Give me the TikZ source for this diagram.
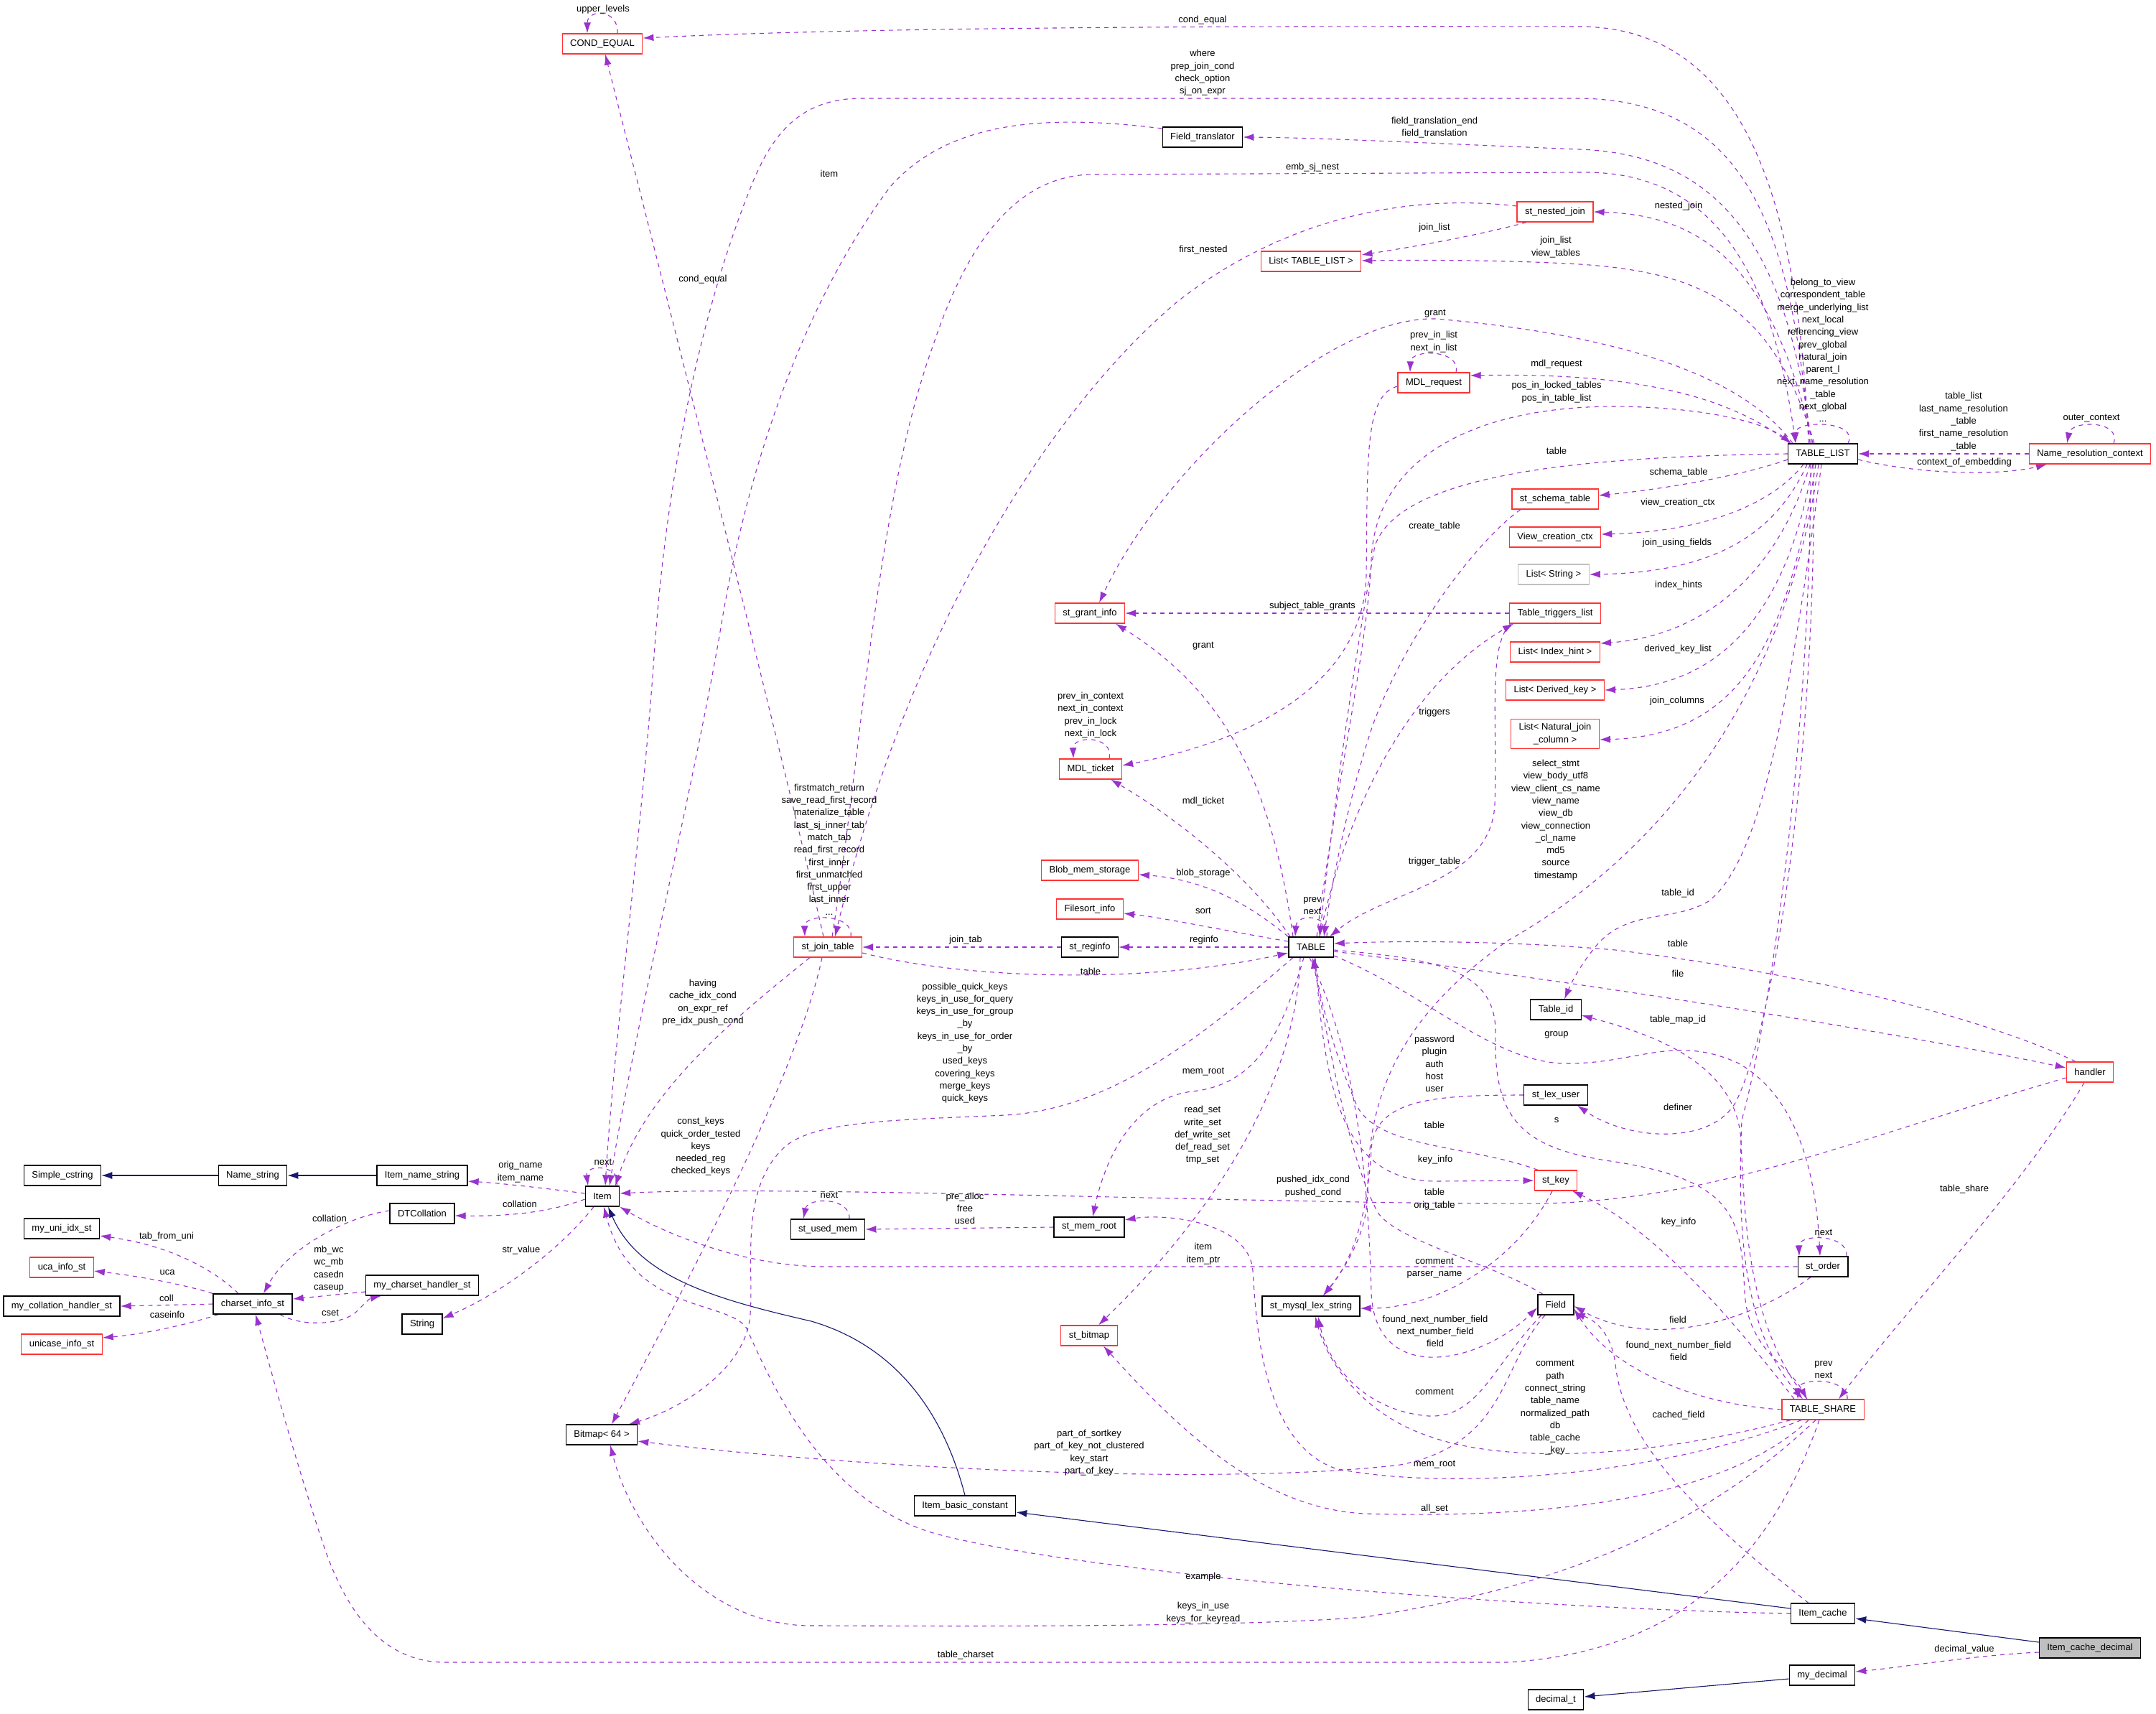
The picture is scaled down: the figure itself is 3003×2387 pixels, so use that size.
\documentclass[tikz,border=0pt]{standalone}
\usepackage{fontspec}
\setmainfont{Liberation Sans}
\usetikzlibrary{arrows.meta,backgrounds}
\definecolor{purp}{HTML}{9A32CD}
\definecolor{navyb}{HTML}{191970}
\definecolor{redb}{HTML}{FF3333}
\definecolor{greyb}{HTML}{BFBFBF}
\newcommand\dgfont{\fontsize{13}{17.3}\selectfont}
\tikzset{
  cls/.style={draw=black, line width=1.25pt, fill=white, inner xsep=11pt, inner ysep=3pt, minimum height=28pt, font=\dgfont, align=center},
  inc/.style={cls, draw=redb},
  uses/.style={draw=purp, line width=1.1pt, dash pattern=on 6pt off 6pt, -{Latex[length=15pt,width=10pt]}},
  inh/.style={draw=navyb, line width=1.1pt, -{Latex[length=15pt,width=10pt]}},
  lbl/.style={font=\dgfont, align=center, inner sep=0pt},
}
\begin{document}
\begin{tikzpicture}[x=1pt,y=-1pt]
\useasboundingbox (0,0) rectangle (3003,2387);
% ---------------- nodes
\node[inc] (COND_EQUAL) at (839,61) {COND\_EQUAL};
\node[cls] (Field_translator) at (1675,191) {Field\_translator};
\node[inc] (st_nested_join) at (2166,295) {st\_nested\_join};
\node[inc] (List_TL) at (1826,364) {List< TABLE\_LIST >};
\node[inc] (MDL_request) at (1997,533) {MDL\_request};
\node[cls] (TABLE_LIST) at (2539,632) {TABLE\_LIST};
\node[inc] (Name_resolution_context) at (2911,632) {Name\_resolution\_context};
\node[inc] (st_schema_table) at (2166,695) {st\_schema\_table};
\node[inc] (View_creation_ctx) at (2166,748) {View\_creation\_ctx};
\node[cls, draw=greyb] (List_String) at (2164,800) {List< String >};
\node[inc] (st_grant_info) at (1518,854) {st\_grant\_info};
\node[inc] (Table_triggers_list) at (2166,854) {Table\_triggers\_list};
\node[inc] (List_Index_hint) at (2166,908) {List< Index\_hint >};
\node[inc] (List_Derived_key) at (2166,961) {List< Derived\_key >};
\node[inc, inner ysep=6pt] (List_Natural) at (2166,1022) {List< Natural\_join\\\_column >};
\node[inc] (MDL_ticket) at (1519,1071) {MDL\_ticket};
\node[inc] (Blob_mem_storage) at (1518,1212) {Blob\_mem\_storage};
\node[inc] (Filesort_info) at (1518,1266) {Filesort\_info};
\node[inc] (st_join_table) at (1153,1319) {st\_join\_table};
\node[cls] (st_reginfo) at (1518,1319) {st\_reginfo};
\node[cls] (TABLE) at (1826,1319) {TABLE};
\node[cls] (Table_id) at (2167,1406) {Table\_id};
\node[inc] (handler) at (2911,1493) {handler};
\node[cls] (st_lex_user) at (2167,1525) {st\_lex\_user};
\node[cls] (Simple_cstring) at (87,1637) {Simple\_cstring};
\node[cls] (Name_string) at (352,1637) {Name\_string};
\node[cls] (Item_name_string) at (588,1637) {Item\_name\_string};
\node[cls] (Item) at (839,1666) {Item};
\node[inc] (st_key) at (2167,1644) {st\_key};
\node[cls] (DTCollation) at (588,1690) {DTCollation};
\node[cls] (my_uni_idx_st) at (86,1711) {my\_uni\_idx\_st};
\node[cls] (st_used_mem) at (1153,1712) {st\_used\_mem};
\node[cls] (st_mem_root) at (1517,1709) {st\_mem\_root};
\node[cls] (st_order) at (2539,1764) {st\_order};
\node[inc] (uca_info_st) at (86,1765) {uca\_info\_st};
\node[cls] (my_charset_handler_st) at (588,1790) {my\_charset\_handler\_st};
\node[cls] (charset_info_st) at (352,1816) {charset\_info\_st};
\node[cls] (Field) at (2167,1817) {Field};
\node[cls] (st_mysql_lex_string) at (1826,1819) {st\_mysql\_lex\_string};
\node[cls] (my_collation_handler_st) at (86,1819) {my\_collation\_handler\_st};
\node[cls] (String) at (588,1844) {String};
\node[inc] (st_bitmap) at (1517,1860) {st\_bitmap};
\node[inc] (unicase_info_st) at (86,1872) {unicase\_info\_st};
\node[inc] (TABLE_SHARE) at (2539,1963) {TABLE\_SHARE};
\node[cls] (Bitmap64) at (838,1998) {Bitmap< 64 >};
\node[cls] (Item_basic_constant) at (1344,2097) {Item\_basic\_constant};
\node[cls] (Item_cache) at (2539,2247) {Item\_cache};
\node[cls, fill=greyb] (Item_cache_decimal) at (2911,2295) {Item\_cache\_decimal};
\node[cls] (my_decimal) at (2538,2333) {my\_decimal};
\node[cls] (decimal_t) at (2167,2367) {decimal\_t};
% ---------------- edges
\begin{pgfonlayer}{background}
\fill[white] (0,0) rectangle (3003,2387);
% inheritance
\draw[inh] (Name_string.west) -- (Simple_cstring.east);
\draw[inh] (Item_name_string.west) -- (Name_string.east);
\draw[inh] (Item_basic_constant.north) .. controls (1315,1970) and (1250,1875) .. (1130,1840) .. controls (1000,1810) and (890,1780) .. ([xshift=8pt]Item.south);
\draw[inh] ([yshift=7pt]Item_cache.west) -- ([yshift=-9pt]Item_basic_constant.east);
\draw[inh] ([yshift=8pt]Item_cache_decimal.west) -- ([yshift=-7pt]Item_cache.east);
\draw[inh] ([yshift=-5pt]my_decimal.west) -- ([yshift=4pt]decimal_t.east);
% TABLE_LIST top side
\draw[uses] ([xshift=-20pt]TABLE_LIST.north) .. controls (2505,300) and (2440,38) .. (2200,37) .. controls (1700,36) and (1200,38) .. ([yshift=8pt]COND_EQUAL.east);
\draw[uses] ([xshift=-18pt]TABLE_LIST.north) .. controls (2495,330) and (2440,140) .. (2200,137) -- (1200,137) .. controls (1120,137) and (1080,180) .. (1050,250) .. controls (980,420) and (930,650) .. (912,900) .. controls (895,1150) and (855,1450) .. ([xshift=4pt]Item.north);
\draw[uses] ([yshift=12pt]Field_translator.west) .. controls (1450,158) and (1320,170) .. (1240,260) .. controls (1120,420) and (1040,650) .. (1003,880) .. controls (965,1100) and (880,1450) .. ([xshift=10pt]Item.north);
\draw[uses] ([xshift=-16pt]TABLE_LIST.north) .. controls (2490,350) and (2400,215) .. (2200,208) .. controls (2000,200) and (1850,192) .. (Field_translator.east);
\draw[uses] ([xshift=6pt]st_join_table.north) .. controls (1200,1050) and (1220,700) .. (1300,480) .. controls (1350,330) and (1420,245) .. (1520,243) -- (2200,240) .. controls (2400,236) and (2470,400) .. ([xshift=-38pt]TABLE_LIST.north);
\draw[uses] ([xshift=-14pt]TABLE_LIST.north) .. controls (2470,380) and (2380,300) .. (st_nested_join.east);
\draw[uses] ([xshift=-40pt]st_nested_join.south) .. controls (2050,330) and (1960,345) .. ([yshift=9pt]List_TL.east);
\draw[uses] ([xshift=-12pt]TABLE_LIST.north) .. controls (2470,430) and (2380,380) .. (2200,368) .. controls (2100,362) and (1980,362) .. ([yshift=1pt]List_TL.east);
\draw[uses] ([yshift=8pt]st_nested_join.west) .. controls (1950,268) and (1780,310) .. (1640,420) .. controls (1450,580) and (1260,900) .. ([xshift=10pt]st_join_table.north);
\draw[uses] ([xshift=-42pt]TABLE_LIST.north) .. controls (2440,540) and (2300,470) .. (2000,444) .. controls (1850,440) and (1620,650) .. ([xshift=13pt]st_grant_info.north);
\draw[uses] ([xshift=-46pt]TABLE_LIST.north) .. controls (2420,560) and (2300,518) .. ([yshift=10pt]MDL_request.east);
\draw[uses] ([xshift=31pt]MDL_request.north) .. controls (2035,486) and (1965,486) .. ([xshift=-33pt]MDL_request.north);
\draw[uses] ([yshift=-5pt]MDL_request.west) .. controls (1900,550) and (1905,640) .. (1903,800) .. controls (1900,950) and (1750,1030) .. ([yshift=5pt]MDL_ticket.east);
\draw[uses] ([xshift=8pt]TABLE.north) .. controls (1860,1100) and (1905,900) .. (1910,780) .. controls (1915,640) and (2050,566) .. (2250,566) .. controls (2380,567) and (2460,590) .. ([xshift=-44pt]TABLE_LIST.north);
\draw[uses] (TABLE_LIST.west) .. controls (2200,636) and (1950,660) .. (1915,760) .. controls (1890,900) and (1860,1100) .. ([xshift=12pt]TABLE.north);
\draw[uses] ([yshift=-8pt]TABLE_LIST.west) .. controls (2420,665) and (2300,683) .. ([yshift=5pt]st_schema_table.east);
\draw[uses] ([xshift=-48pt]st_schema_table.south) .. controls (2060,750) and (1960,880) .. (1912,1010) .. controls (1875,1120) and (1852,1250) .. ([xshift=18pt]TABLE.north);
% TABLE_LIST lower side
\draw[uses] ([xshift=-27pt]TABLE_LIST.south) .. controls (2470,700) and (2380,740) .. ([yshift=4pt]View_creation_ctx.east);
\draw[uses] ([xshift=-22pt]TABLE_LIST.south) .. controls (2470,750) and (2380,797) .. (List_String.east);
\draw[uses] ([xshift=-18pt]TABLE_LIST.south) .. controls (2480,790) and (2380,885) .. ([yshift=12pt]List_Index_hint.east);
\draw[uses] ([xshift=-14pt]TABLE_LIST.south) .. controls (2490,850) and (2400,955) .. (List_Derived_key.east);
\draw[uses] ([xshift=-10pt]TABLE_LIST.south) .. controls (2490,900) and (2420,1025) .. ([yshift=-8pt]List_Natural.east);
\draw[uses] ([xshift=-6pt]TABLE_LIST.south) .. controls (2490,950) and (2330,1180) .. (2100,1310) .. controls (1930,1430) and (1905,1550) .. (1905,1660) .. controls (1905,1720) and (1870,1770) .. ([xshift=17pt]st_mysql_lex_string.north);
\draw[uses] ([xshift=-2pt]TABLE_LIST.south) .. controls (2490,1000) and (2450,1200) .. (2380,1255) .. controls (2330,1285) and (2270,1265) .. (2225,1315) .. controls (2200,1345) and (2188,1370) .. ([xshift=12pt]Table_id.north);
\draw[uses] ([xshift=-13pt]TABLE_LIST.south) .. controls (2530,1000) and (2480,1400) .. (2420,1530) .. controls (2390,1595) and (2270,1590) .. ([xshift=30pt]st_lex_user.south);
\draw[uses] ([xshift=-17pt]TABLE_LIST.south) .. controls (2522,1000) and (2470,1400) .. (2426,1560) .. controls (2420,1700) and (2425,1850) .. ([xshift=-28pt]TABLE_SHARE.north);
\draw[uses] ([xshift=-22pt]TABLE_SHARE.north) .. controls (2435,1850) and (2430,1700) .. (2425,1590) .. controls (2420,1480) and (2300,1440) .. ([yshift=-8pt]Table_id.east);
% Name_resolution_context
\draw[uses] (Name_resolution_context.west) -- (TABLE_LIST.east);
\draw[uses] ([yshift=-8pt]TABLE_LIST.east) .. controls (2680,662) and (2790,662) .. ([xshift=-60pt]Name_resolution_context.south);
\draw[uses] ([xshift=33pt]Name_resolution_context.north) .. controls (2955,585) and (2885,585) .. ([xshift=-32pt]Name_resolution_context.north);
\draw[uses] ([xshift=35pt]TABLE_LIST.north) .. controls (2590,585) and (2500,585) .. ([xshift=-38pt]TABLE_LIST.north);
% TABLE
\draw[uses] ([xshift=22pt]TABLE.north) .. controls (1852,1272) and (1806,1272) .. ([xshift=-22pt]TABLE.north);
\draw[uses] ([xshift=-25pt]TABLE.north) .. controls (1770,1080) and (1700,960) .. ([xshift=36pt]st_grant_info.south);
\draw[uses] ([xshift=-29pt]TABLE.north) .. controls (1740,1220) and (1640,1140) .. ([xshift=28pt]MDL_ticket.south);
\draw[uses] (TABLE.north west) .. controls (1740,1260) and (1680,1225) .. ([yshift=-6pt]Blob_mem_storage.east);
\draw[uses] ([yshift=8pt]TABLE.west) .. controls (1700,1295) and (1620,1278) .. ([yshift=-6pt]Filesort_info.east);
\draw[uses] (TABLE.west) -- (st_reginfo.east);
\draw[uses] ([yshift=-8pt]st_join_table.east) .. controls (1350,1365) and (1600,1370) .. ([yshift=-8pt]TABLE.west);
\draw[uses] (st_reginfo.west) -- (st_join_table.east);
\draw[uses] ([xshift=32pt]st_join_table.north) .. controls (1190,1272) and (1120,1272) .. ([xshift=-32pt]st_join_table.north);
\draw[uses] (Table_triggers_list.west) -- (st_grant_info.east);
\draw[uses] ([xshift=12pt]TABLE.north) .. controls (1870,1150) and (1950,960) .. ([xshift=-58pt]Table_triggers_list.south);
\draw[uses] ([xshift=-62pt]Table_triggers_list.south) .. controls (2072,900) and (2086,1000) .. (2082,1120) .. controls (2077,1230) and (1930,1240) .. ([xshift=26pt]TABLE.north);
\draw[uses] (st_lex_user.west) .. controls (2000,1525) and (1915,1530) .. (1910,1600) .. controls (1905,1700) and (1880,1760) .. ([xshift=17pt]st_mysql_lex_string.north);
\draw[uses] ([xshift=6pt]TABLE.south) .. controls (1845,1520) and (1870,1645) .. (2000,1645) -- (st_key.west);
\draw[uses] ([xshift=-25pt]st_key.north) .. controls (2050,1595) and (1920,1600) .. (1890,1540) .. controls (1860,1470) and (1840,1400) .. ([xshift=4pt]TABLE.south);
\draw[uses] ([xshift=-18pt]Field.north) .. controls (2080,1760) and (1950,1730) .. (1920,1690) .. controls (1880,1620) and (1850,1450) .. ([xshift=2pt]TABLE.south);
\draw[uses] ([xshift=-2pt]TABLE.south) .. controls (1880,1450) and (1905,1600) .. (1910,1800) .. controls (1915,1930) and (2060,1900) .. ([yshift=-4pt]Field.west);
\draw[uses] ([xshift=-20pt]Field.south) .. controls (2080,1900) and (2060,1975) .. (1990,1972) .. controls (1900,1965) and (1850,1900) .. ([xshift=10pt]st_mysql_lex_string.south);
\draw[uses] ([xshift=-15pt]Field.south) .. controls (2090,1900) and (2100,2010) .. (1950,2040) .. controls (1700,2070) and (1200,2045) .. ([yshift=-9pt]Bitmap64.east);
\draw[uses] ([xshift=-5pt]st_key.south) .. controls (2110,1760) and (2000,1822) .. ([yshift=-3pt]st_mysql_lex_string.east);
\draw[uses] ([yshift=-4pt]TABLE.east) .. controls (2000,1335) and (2085,1350) .. (2083,1440) .. controls (2080,1560) and (2120,1600) .. (2250,1618) .. controls (2420,1645) and (2425,1700) .. (2430,1800) .. controls (2435,1880) and (2490,1900) .. ([xshift=-22pt]TABLE_SHARE.north);
\draw[uses] ([yshift=-12pt]TABLE.east) .. controls (1980,1380) and (2080,1480) .. (2180,1481) .. controls (2280,1482) and (2330,1440) .. (2420,1480) .. controls (2510,1530) and (2530,1650) .. ([xshift=-4pt]st_order.north);
\draw[uses] ([xshift=-20pt]handler.north) .. controls (2780,1425) and (2550,1360) .. (2250,1323) .. controls (2100,1310) and (1950,1310) .. ([yshift=5pt]TABLE.east);
\draw[uses] ([yshift=-6pt]TABLE.east) .. controls (2300,1380) and (2700,1450) .. ([yshift=6pt]handler.west);
\draw[uses] ([yshift=-8pt]handler.west) .. controls (2600,1580) and (2400,1670) .. (2150,1676) .. controls (1800,1678) and (1100,1650) .. ([yshift=4pt]Item.east);
\draw[uses] ([xshift=-8pt]handler.south) .. controls (2820,1650) and (2650,1830) .. ([xshift=22pt]TABLE_SHARE.north);
% TABLE_SHARE etc.
\draw[uses] ([xshift=34pt]TABLE_SHARE.north) .. controls (2575,1918) and (2505,1918) .. ([xshift=-35pt]TABLE_SHARE.north);
\draw[uses] ([xshift=-40pt]TABLE_SHARE.north) .. controls (2400,1820) and (2300,1710) .. ([xshift=23pt]st_key.south);
\draw[uses] (TABLE_SHARE.west) .. controls (2350,1955) and (2240,1900) .. ([yshift=-6pt]Field.east);
\draw[uses] ([xshift=-17pt]st_order.south) .. controls (2440,1840) and (2300,1880) .. ([yshift=-2pt]Field.east);
\draw[uses] ([xshift=33pt]st_order.north) .. controls (2575,1718) and (2505,1718) .. ([xshift=-33pt]st_order.north);
\draw[uses] (st_order.west) -- (1150,1764) .. controls (1040,1764) and (930,1720) .. (Item.south east);
\draw[uses] ([xshift=-20pt]Item_cache.north) .. controls (2350,2100) and (2260,2000) .. (2250,1900) .. controls (2245,1860) and (2225,1840) .. ([yshift=-11pt]Field.east);
\draw[uses] (Item_cache.west) .. controls (2100,2240) and (1500,2190) .. (1300,2135) .. controls (1150,2090) and (1080,1940) .. (1040,1850) .. controls (1015,1810) and (880,1830) .. ([xshift=2pt]Item.south);
\draw[uses] ([xshift=-10pt]TABLE_SHARE.south) .. controls (2420,2080) and (2250,2200) .. (1900,2252) .. controls (1700,2268) and (1250,2264) .. (1130,2264) .. controls (980,2264) and (880,2130) .. ([xshift=12pt]Bitmap64.south);
\draw[uses] ([xshift=-45pt]TABLE_SHARE.south) .. controls (2300,2030) and (2100,2040) .. (1990,2000) .. controls (1900,1970) and (1850,1900) .. ([xshift=6pt]st_mysql_lex_string.south);
\draw[uses] ([xshift=-30pt]TABLE_SHARE.south) .. controls (2300,2060) and (2000,2075) .. (1860,2045) .. controls (1760,2010) and (1750,1850) .. (1745,1770) .. controls (1740,1700) and (1620,1690) .. ([yshift=10pt]st_mem_root.east);
\draw[uses] ([xshift=-20pt]TABLE_SHARE.south) .. controls (2400,2090) and (2150,2115) .. (1900,2108) .. controls (1760,2100) and (1650,2000) .. ([xshift=20pt]st_bitmap.south);
\draw[uses] ([xshift=-5pt]TABLE_SHARE.south) .. controls (2470,2160) and (2350,2300) .. (2100,2315) -- (620,2315) .. controls (530,2315) and (480,2240) .. (450,2150) .. controls (410,2030) and (375,1900) .. ([xshift=4pt]charset_info_st.south);
% TABLE / st_join_table to Bitmap, Item
\draw[uses] ([xshift=-25pt]TABLE.south) .. controls (1700,1420) and (1560,1545) .. (1400,1553) .. controls (1250,1560) and (1130,1560) .. (1090,1600) .. controls (1030,1660) and (1050,1760) .. (1045,1830) .. controls (1040,1910) and (940,1965) .. ([xshift=38pt]Bitmap64.north);
\draw[uses] ([xshift=-8pt]st_join_table.south) .. controls (1110,1500) and (950,1800) .. ([xshift=14pt]Bitmap64.north);
\draw[uses] ([xshift=-25pt]st_join_table.south) .. controls (1020,1420) and (900,1520) .. ([xshift=18pt]Item.north);
\draw[uses] ([xshift=-6pt]st_join_table.north) .. controls (1090,1050) and (930,420) .. ([xshift=4pt]COND_EQUAL.south);
\draw[uses] ([xshift=21pt]COND_EQUAL.north) .. controls (862,12) and (818,12) .. ([xshift=-21pt]COND_EQUAL.north);
\draw[uses] ([xshift=26pt]MDL_ticket.north) .. controls (1552,1024) and (1494,1024) .. ([xshift=-24pt]MDL_ticket.north);
\draw[uses] ([xshift=-10pt]TABLE.south) .. controls (1790,1420) and (1760,1510) .. (1660,1520) .. controls (1580,1530) and (1540,1610) .. ([xshift=5pt]st_mem_root.north);
\draw[uses] ([xshift=-15pt]TABLE.south) .. controls (1805,1520) and (1680,1700) .. ([xshift=13pt]st_bitmap.north);
\draw[uses] (st_mem_root.west) -- (st_used_mem.east);
\draw[uses] ([xshift=30pt]st_used_mem.north) .. controls (1185,1667) and (1125,1667) .. ([xshift=-34pt]st_used_mem.north);
% Item and charset cluster
\draw[uses] ([xshift=20pt]Item.north) .. controls (865,1621) and (815,1621) .. ([xshift=-20pt]Item.north);
\draw[uses] ([xshift=-12pt]Item.south) .. controls (780,1740) and (700,1800) .. ([yshift=8pt]String.east);
\draw[uses] ([yshift=4pt]Item.west) .. controls (760,1655) and (700,1648) .. ([yshift=-8pt]Item_name_string.east);
\draw[uses] ([yshift=-4pt]Item.west) .. controls (760,1690) and (700,1694) .. ([yshift=-3pt]DTCollation.east);
\draw[uses] ([yshift=4pt]DTCollation.west) .. controls (480,1695) and (400,1740) .. ([xshift=15pt]charset_info_st.north);
\draw[uses] ([yshift=-9pt]my_charset_handler_st.west) -- ([yshift=7pt]charset_info_st.east);
\draw[uses] ([xshift=38pt]charset_info_st.south) .. controls (420,1848) and (475,1845) .. (495,1828) .. controls (505,1818) and (515,1808) .. ([xshift=-57pt]my_charset_handler_st.south);
\draw[uses] ([xshift=-20pt]charset_info_st.north) .. controls (300,1770) and (240,1735) .. ([yshift=-10pt]my_uni_idx_st.east);
\draw[uses] (charset_info_st.north west) .. controls (260,1790) and (200,1778) .. ([yshift=-5pt]uca_info_st.east);
\draw[uses] (charset_info_st.west) -- (my_collation_handler_st.east);
\draw[uses] ([xshift=8pt]charset_info_st.south west) .. controls (260,1845) and (200,1858) .. ([yshift=9pt]unicase_info_st.east);
\draw[uses] ([yshift=-6pt]Item_cache_decimal.west) .. controls (2750,2305) and (2650,2322) .. ([yshift=5pt]my_decimal.east);
\end{pgfonlayer}
% ---------------- labels
\node[lbl] (l1) at (840,13) {upper\_levels};
\node[lbl] (l2) at (1675,28) {cond\_equal};
\node[lbl] (l3) at (1675,101.5) {where\\prep\_join\_cond\\check\_option\\sj\_on\_expr};
\node[lbl] (l4) at (1155,242) {item};
\node[lbl] (l5) at (1998,177.5) {field\_translation\_end\\field\_translation};
\node[lbl] (l6) at (1828,233) {emb\_sj\_nest};
\node[lbl] (l7) at (2338,287) {nested\_join};
\node[lbl] (l8) at (1998,317) {join\_list};
\node[lbl] (l9) at (2167,344) {join\_list\\view\_tables};
\node[lbl] (l10) at (1676,348) {first\_nested};
\node[lbl] (l11) at (979,389) {cond\_equal};
\node[lbl] (l12) at (1999,437) {grant};
\node[lbl] (l13) at (1997,476) {prev\_in\_list\\next\_in\_list};
\node[lbl] (l14) at (2539,488) {belong\_to\_view\\correspondent\_table\\merge\_underlying\_list\\next\_local\\referencing\_view\\prev\_global\\natural\_join\\parent\_l\\next\_name\_resolution\\\_table\\next\_global\\...};
\node[lbl] (l15) at (2168,507) {mdl\_request};
\node[lbl] (l16) at (2168,546) {pos\_in\_locked\_tables\\pos\_in\_table\_list};
\node[lbl] (l17) at (2735,587) {table\_list\\last\_name\_resolution\\\_table\\first\_name\_resolution\\\_table};
\node[lbl] (l18) at (2913,583) {outer\_context};
\node[lbl] (l19) at (2168,628) {table};
\node[lbl] (l20) at (2736,644) {context\_of\_embedding};
\node[lbl] (l21) at (2338,658) {schema\_table};
\node[lbl] (l22) at (2337,700) {view\_creation\_ctx};
\node[lbl] (l23) at (1998,733) {create\_table};
\node[lbl] (l24) at (2336,756) {join\_using\_fields};
\node[lbl] (l25) at (2338,815) {index\_hints};
\node[lbl] (l26) at (1828,844) {subject\_table\_grants};
\node[lbl] (l27) at (1676,900) {grant};
\node[lbl] (l28) at (2337,904) {derived\_key\_list};
\node[lbl] (l29) at (2336,976) {join\_columns};
\node[lbl] (l30) at (1998,992) {triggers};
\node[lbl] (l31) at (1519,996) {prev\_in\_context\\next\_in\_context\\prev\_in\_lock\\next\_in\_lock};
\node[lbl] (l32) at (2167,1142) {select\_stmt\\view\_body\_utf8\\view\_client\_cs\_name\\view\_name\\view\_db\\view\_connection\\\_cl\_name\\md5\\source\\timestamp};
\node[lbl] (l33) at (1676,1116) {mdl\_ticket};
\node[lbl] (l34) at (1998,1200) {trigger\_table};
\node[lbl] (l35) at (1676,1216) {blob\_storage};
\node[lbl] (l36) at (2337,1244) {table\_id};
\node[lbl] (l37) at (1828,1261.5) {prev\\next};
\node[lbl] (l38) at (1155,1183) {firstmatch\_return\\save\_read\_first\_record\\materialize\_table\\last\_sj\_inner\_tab\\match\_tab\\read\_first\_record\\first\_inner\\first\_unmatched\\first\_upper\\last\_inner\\...};
\node[lbl] (l39) at (1676,1268) {sort};
\node[lbl] (l40) at (1345,1309) {join\_tab};
\node[lbl] (l41) at (1677,1309) {reginfo};
\node[lbl] (l42) at (2337,1314) {table};
\node[lbl] (l43) at (1519,1353) {table};
\node[lbl] (l44) at (2337,1356) {file};
\node[lbl] (l45) at (979,1396) {having\\cache\_idx\_cond\\on\_expr\_ref\\pre\_idx\_push\_cond};
\node[lbl] (l46) at (1344,1452.5) {possible\_quick\_keys\\keys\_in\_use\_for\_query\\keys\_in\_use\_for\_group\\\_by\\keys\_in\_use\_for\_order\\\_by\\used\_keys\\covering\_keys\\merge\_keys\\quick\_keys};
\node[lbl] (l47) at (2337,1420) {table\_map\_id};
\node[lbl] (l48) at (2168,1441) {group};
\node[lbl] (l49) at (1998,1481.5) {password\\plugin\\auth\\host\\user};
\node[lbl] (l50) at (1676,1493) {mem\_root};
\node[lbl] (l51) at (2337,1542) {definer};
\node[lbl] (l52) at (1675,1581) {read\_set\\write\_set\\def\_write\_set\\def\_read\_set\\tmp\_set};
\node[lbl] (l53) at (2168,1560) {s};
\node[lbl] (l54) at (1998,1567) {table};
\node[lbl] (l55) at (976,1597) {const\_keys\\quick\_order\_tested\\keys\\needed\_reg\\checked\_keys};
\node[lbl] (l56) at (1999,1615) {key\_info};
\node[lbl] (l57) at (840,1618) {next};
\node[lbl] (l58) at (725,1632) {orig\_name\\item\_name};
\node[lbl] (l59) at (1829,1652) {pushed\_idx\_cond\\pushed\_cond};
\node[lbl] (l60) at (1998,1670) {table\\orig\_table};
\node[lbl] (l61) at (2736,1656) {table\_share};
\node[lbl] (l62) at (1155,1664) {next};
\node[lbl] (l63) at (1344,1683) {pre\_alloc\\free\\used};
\node[lbl] (l64) at (724,1677) {collation};
\node[lbl] (l65) at (459,1697) {collation};
\node[lbl] (l66) at (2338,1702) {key\_info};
\node[lbl] (l67) at (2540,1716) {next};
\node[lbl] (l68) at (232,1722) {tab\_from\_uni};
\node[lbl] (l69) at (726,1741) {str\_value};
\node[lbl] (l70) at (1676,1746) {item\\item\_ptr};
\node[lbl] (l71) at (458,1767) {mb\_wc\\wc\_mb\\casedn\\caseup};
\node[lbl] (l72) at (1998,1766) {comment\\parser\_name};
\node[lbl] (l73) at (233,1772) {uca};
\node[lbl] (l74) at (232,1808) {coll};
\node[lbl] (l75) at (460,1828) {cset};
\node[lbl] (l76) at (233,1831) {caseinfo};
\node[lbl] (l77) at (2337,1838) {field};
\node[lbl] (l78) at (1999,1854) {found\_next\_number\_field\\next\_number\_field\\field};
\node[lbl] (l79) at (2338,1881.5) {found\_next\_number\_field\\field};
\node[lbl] (l80) at (2540,1907.5) {prev\\next};
\node[lbl] (l81) at (2166,1960.5) {comment\\path\\connect\_string\\table\_name\\normalized\_path\\db\\table\_cache\\\_key};
\node[lbl] (l82) at (1998,1938) {comment};
\node[lbl] (l83) at (2338,1971) {cached\_field};
\node[lbl] (l84) at (1517,2023) {part\_of\_sortkey\\part\_of\_key\_not\_clustered\\key\_start\\part\_of\_key};
\node[lbl] (l85) at (1998,2040) {mem\_root};
\node[lbl] (l86) at (1998,2101) {all\_set};
\node[lbl] (l87) at (1676,2196) {example};
\node[lbl] (l88) at (1676,2246) {keys\_in\_use\\keys\_for\_keyread};
\node[lbl] (l89) at (2736,2297) {decimal\_value};
\node[lbl] (l90) at (1345,2305) {table\_charset};
\end{tikzpicture}
\end{document}
